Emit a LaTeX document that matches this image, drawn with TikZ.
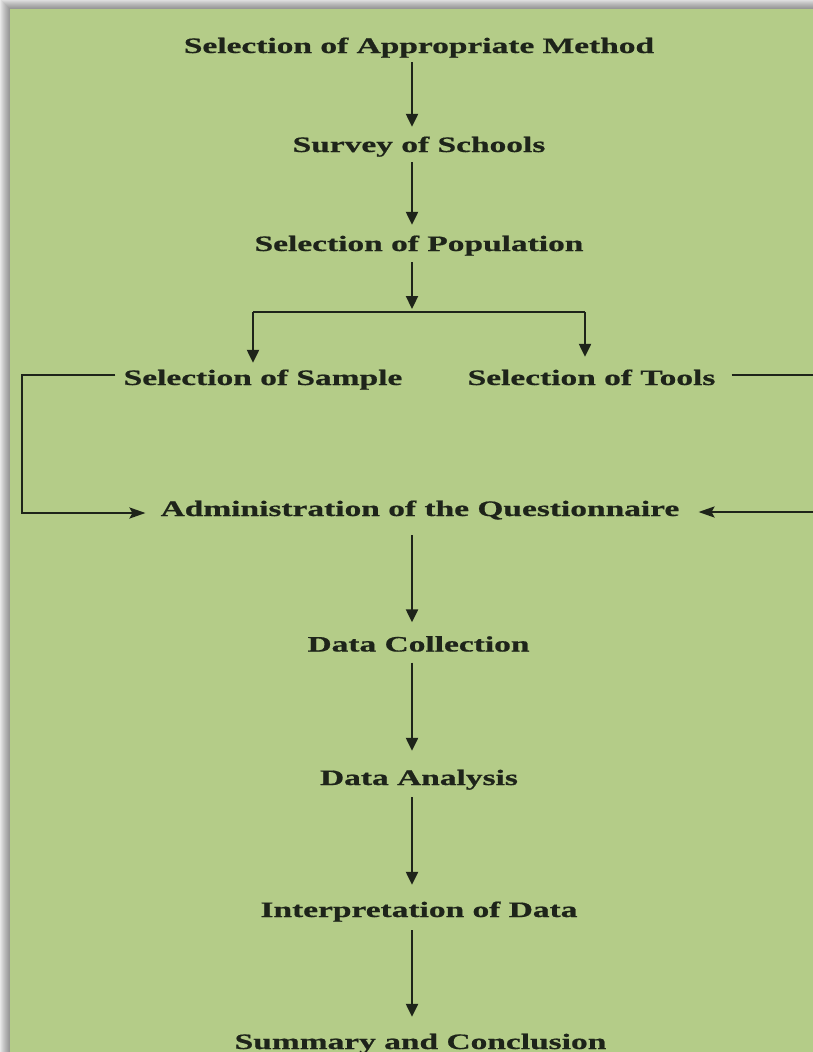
\documentclass[tikz,border=0pt]{standalone}
\usepackage{fontspec}
\setmainfont{Liberation Serif}
\newfontfamily\heavyserif{Liberation Serif Bold}[FakeBold=0.6]
\usetikzlibrary{arrows.meta}
\definecolor{bggreen}{RGB}{180,204,136}
\definecolor{ink}{RGB}{30,36,26}
\definecolor{frame}{RGB}{232,232,232}
\newcommand\lbl[1]{\scalebox{1.52}[1]{\fontsize{22}{26}\selectfont\heavyserif #1}}
\tikzset{
  x=1pt, y=-1pt,
  lab/.style={inner sep=0pt, text height=15pt, text depth=5pt, anchor=base, text=ink},
  conn/.style={draw=ink, line width=2.3pt},
  arr/.style={conn, -{Triangle[length=13pt,width=12pt]}},
  arrh/.style={conn, -{Stealth[length=16pt,width=11pt,inset=3pt]}},
}
\begin{document}
\begin{tikzpicture}
\useasboundingbox (0,0) rectangle (813,1052);
\clip (0,0) rectangle (813,1052);
% frame and shadow
\fill[frame] (0,0) rectangle (813,1052);
\foreach \k in {1,...,9} {
  \fill[black, opacity=0.045] (10-\k,9-\k) rectangle (830,1070);
}
\fill[bggreen] (10,9) rectangle (830,1070);

% labels
\node[lab] (method) at (419,53) {\lbl{Selection of Appropriate Method}};
\node[lab] (survey) at (419,152) {\lbl{Survey of Schools}};
\node[lab] (pop) at (419,251) {\lbl{Selection of Population}};
\node[lab] (sample) at (263,385) {\lbl{Selection of Sample}};
\node[lab] (tools) at (591.5,385) {\lbl{Selection of Tools}};
\node[lab] (admin) at (420,516) {\lbl{Administration of the Questionnaire}};
\node[lab] (dc) at (418.5,651.5) {\lbl{Data Collection}};
\node[lab] (da) at (419,785) {\lbl{Data Analysis}};
\node[lab] (interp) at (419,917) {\lbl{Interpretation of Data}};
\node[lab] (summ) at (420.5,1049) {\lbl{Summary and Conclusion}};

% helper coordinates
\coordinate (ax) at (412,0);
\coordinate (br) at (412,312);
\coordinate (bl) at (253,312);
\coordinate (bR) at (585,312);
\coordinate (lx) at (22,450);
\coordinate (rx) at (850,450);

% vertical chain
\draw[arr, shorten <=4pt, shorten >=10pt] (method.south -| ax) -- (survey.north -| ax);
\draw[arr, shorten <=5pt, shorten >=11pt] (survey.south -| ax) -- (pop.north -| ax);
\draw[arr, shorten <=6pt, shorten >=3pt] (pop.south -| ax) -- (br);
\draw[conn] (bl) -- (bR);
\draw[arr, shorten >=7pt] (bl) -- (bl |- sample.north);
\draw[arr, shorten >=13pt] (bR) -- (bR |- tools.north);

% side loops
\draw[arrh, shorten <=8pt, shorten >=15pt] ([yshift=5pt]sample.west) -| (lx) |- ([yshift=-2pt]admin.west);
\draw[arrh, shorten <=16pt, shorten >=19pt] ([yshift=5pt]tools.east) -| (rx) |- ([yshift=-1pt]admin.east);

% lower chain
\draw[arr, shorten <=14pt, shorten >=14pt] (admin.south -| ax) -- (dc.north -| ax);
\draw[arr, shorten <=6pt, shorten >=19pt] (dc.south -| ax) -- (da.north -| ax);
\draw[arr, shorten <=7pt, shorten >=17pt] (da.south -| ax) -- (interp.north -| ax);
\draw[arr, shorten <=8pt, shorten >=17pt] (interp.south -| ax) -- (summ.north -| ax);
\end{tikzpicture}
\end{document}
